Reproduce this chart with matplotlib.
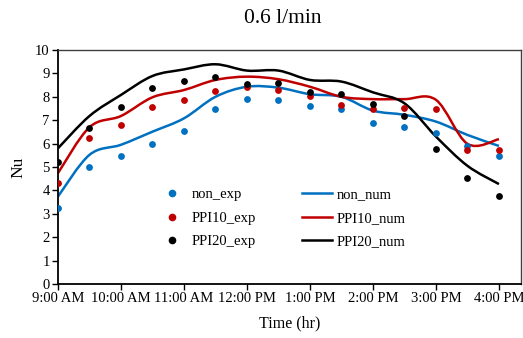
import matplotlib
matplotlib.use("Agg")
import matplotlib.pyplot as plt
from matplotlib.path import Path
from matplotlib.patches import PathPatch
from matplotlib.lines import Line2D
import numpy as np

plt.rcParams['font.family'] = ['Liberation Serif', 'DejaVu Serif']

hours = [9, 9.5, 10, 10.5, 11, 11.5, 12, 12.5, 13, 13.5, 14, 14.5, 15, 15.5, 16]
tick_hours = [9, 10, 11, 12, 13, 14, 15, 16]
tick_labels = ["9:00 AM", "10:00 AM", "11:00 AM", "12:00 PM", "1:00 PM", "2:00 PM", "3:00 PM", "4:00 PM"]

non_exp = [3.24, 4.98, 5.45, 6.00, 6.54, 7.48, 7.91, 7.85, 7.61, 7.48, 6.90, 6.73, 6.44, 5.90, 5.45]
ppi10_exp = [4.31, 6.23, 6.81, 7.58, 7.87, 8.26, 8.42, 8.28, 8.02, 7.64, 7.48, 7.52, 7.48, 5.73, 5.73]
ppi20_exp = [5.23, 6.68, 7.55, 8.36, 8.68, 8.86, 8.56, 8.60, 8.19, 8.11, 7.68, 7.18, 5.77, 4.54, 3.74]

non_num = [3.74, 5.52, 5.95, 6.51, 7.08, 8.00, 8.43, 8.39, 8.11, 8.00, 7.41, 7.23, 6.94, 6.37, 5.90]
ppi10_num = [4.74, 6.70, 7.18, 7.98, 8.29, 8.72, 8.86, 8.75, 8.43, 8.00, 7.90, 7.90, 7.87, 5.99, 6.19]
ppi20_num = [5.80, 7.18, 8.08, 8.89, 9.17, 9.39, 9.12, 9.12, 8.72, 8.65, 8.19, 7.72, 6.30, 5.05, 4.27]

blue = "#0070C0"
red = "#C00000"
black = "#000000"


def smooth_path(x, y):
    P = np.column_stack([x, y])
    n = len(P)
    verts = [P[0]]
    codes = [Path.MOVETO]
    for i in range(n - 1):
        p0 = P[i - 1] if i > 0 else P[i]
        p1 = P[i]
        p2 = P[i + 1]
        p3 = P[i + 2] if i + 2 < n else P[i + 1]
        c1 = p1 + (p2 - p0) / 6.0
        c2 = p2 - (p3 - p1) / 6.0
        verts += [c1, c2, p2]
        codes += [Path.CURVE4] * 3
    return Path(verts, codes)


fig = plt.figure(figsize=(5.23, 3.38), dpi=100)
ax = fig.add_axes([58 / 523, 1 - 284 / 338, (521 - 58) / 523, (284 - 50) / 338])

for yv, c in [(non_num, blue), (ppi10_num, red), (ppi20_num, black)]:
    ax.add_patch(PathPatch(smooth_path(hours, yv), facecolor='none', edgecolor=c, lw=1.8, zorder=2))

ax.scatter(hours, non_exp, s=24, color=blue, zorder=3, linewidths=0)
ax.scatter(hours, ppi10_exp, s=24, color=red, zorder=3, linewidths=0)
ax.scatter(hours, ppi20_exp, s=24, color=black, zorder=3, linewidths=0)

ax.set_xlim(9, 16.35)
ax.set_ylim(0, 10)
ax.set_yticks(range(0, 11))
ax.set_xticks(tick_hours)
ax.set_xticklabels(tick_labels)
ax.tick_params(axis='both', labelsize=10.5, direction='out', length=4, width=1, colors='black')
ax.tick_params(axis='x', pad=2)
ax.tick_params(axis='y', pad=2)
for s in ax.spines.values():
    s.set_linewidth(1.0)
    s.set_color('#404040')
ax.spines['left'].set_color('black')
ax.spines['bottom'].set_color('black')
ax.spines['left'].set_linewidth(1.3)
ax.spines['bottom'].set_linewidth(1.3)

ax.set_xlabel("Time (hr)", fontsize=11.5, labelpad=7)
ax.set_ylabel("Nu", fontsize=12.5, labelpad=6)
fig.suptitle("0.6 l/min", fontsize=15.5, x=283 / 523, y=0.972)

handles = [
    Line2D([], [], ls='none', marker='o', ms=5.5, color=blue, mec='none'),
    Line2D([], [], ls='none', marker='o', ms=5.5, color=red, mec='none'),
    Line2D([], [], ls='none', marker='o', ms=5.5, color=black, mec='none'),
    Line2D([], [], color=blue, lw=1.8),
    Line2D([], [], color=red, lw=1.8),
    Line2D([], [], color=black, lw=1.8),
]
labels = ["non_exp", "PPI10_exp", "PPI20_exp", "non_num", "PPI10_num", "PPI20_num"]
ax.legend(handles, labels, ncol=2, frameon=False, loc='upper left',
          bbox_to_anchor=((157 - 58) / 463, (284 - 188) / 234), borderaxespad=0, borderpad=0,
          fontsize=10.5, labelspacing=0.7,
          columnspacing=3.2, handlelength=2.05, handletextpad=0.3)

fig.savefig("out.png", dpi=100)
